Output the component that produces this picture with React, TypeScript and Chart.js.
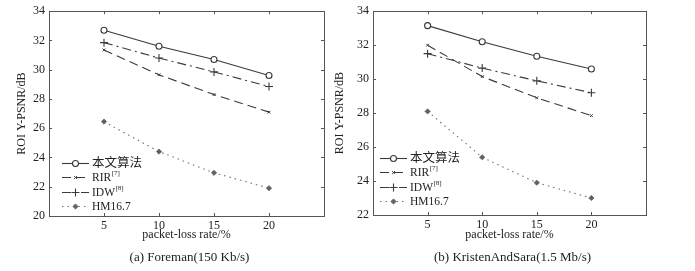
import React, { useEffect, useRef } from 'react';
import { Chart, registerables } from 'chart.js';
import { drawPoint } from 'chart.js/helpers';

Chart.register(...registerables);

// ---------- data ----------
const xValues = [5, 10, 15, 20];
const xTicks = [5, 10, 15, 20];
const seriesNames = ['本文算法', 'RIR', 'IDW', 'HM16.7'];
const seriesRefs = ['', '[7]', '[8]', ''];

const foremanOurs = [32.7, 31.6, 30.7, 29.6];
const foremanRIR = [31.35, 29.65, 28.3, 27.1];
const foremanIDW = [31.85, 30.8, 29.85, 28.85];
const foremanHM = [26.45, 24.4, 22.95, 21.9];

const kristenOurs = [33.15, 32.2, 31.35, 30.6];
const kristenRIR = [32.0, 30.15, 28.9, 27.85];
const kristenIDW = [31.5, 30.65, 29.9, 29.2];
const kristenHM = [28.1, 25.4, 23.9, 23.0];

const foremanYTicks = [20, 22, 24, 26, 28, 30, 32, 34];
const kristenYTicks = [22, 24, 26, 28, 30, 32, 34];

const xTitle = 'packet-loss rate/%';
const yTitle = 'ROI Y-PSNR/dB';
const captionA = '(a) Foreman(150 Kb/s)';
const captionB = '(b) KristenAndSara(1.5 Mb/s)';

// ---------- styles ----------
const SERIF = "'Liberation Serif', 'Times New Roman', serif";
const LEGEND_FONT = "'Liberation Serif', 'Noto Sans CJK SC', serif";
const TEXT = '#222';
const FRAME = '#555';

const seriesStyles = [
  { color: '#3a3a3a', dash: [] as number[], pointStyle: 'circle', radius: 3, fill: '#ffffff', bw: 1.1 },
  { color: '#3a3a3a', dash: [9, 5], pointStyle: 'crossRot', radius: 2, fill: '#3a3a3a', bw: 1 },
  { color: '#3a3a3a', dash: [9, 4, 2, 4], pointStyle: 'cross', radius: 4, fill: '#3a3a3a', bw: 1.1 },
  { color: '#707070', dash: [1.5, 4], pointStyle: 'rectRot', radius: 2.6, fill: '#606060', bw: 1 },
];

type Panel = {
  series: number[][];
  yTicks: number[];
  caption: string;
  width: number;
  left: number;
  yAxisWidth: number;
  yTitlePad: number;
  padRight: number;
  top: number;
  bottomPlot: number;
  legendDx: number;
  legendDy: number;
  legendGap: number;
};

const panels: Panel[] = [
  {
    series: [foremanOurs, foremanRIR, foremanIDW, foremanHM],
    yTicks: foremanYTicks,
    caption: captionA,
    width: 330,
    left: 0,
    yAxisWidth: 49,
    yTitlePad: 15,
    padRight: 6,
    top: 10,
    bottomPlot: 216,
    legendDx: 13,
    legendDy: 53,
    legendGap: 14.4,
  },
  {
    series: [kristenOurs, kristenRIR, kristenIDW, kristenHM],
    yTicks: kristenYTicks,
    caption: captionB,
    width: 365,
    left: 330,
    yAxisWidth: 43,
    yTitlePad: 3,
    padRight: 49,
    top: 10,
    bottomPlot: 215,
    legendDx: 7,
    legendDy: 57,
    legendGap: 14.4,
  },
];

const H = 271;

function makeFramePlugin(p: Panel) {
  return {
    id: 'frameLegend',
    beforeDatasetsDraw(chart: any) {
      const { ctx, chartArea: ca, scales } = chart;
      ctx.save();
      ctx.strokeStyle = FRAME;
      ctx.lineWidth = 1;
      ctx.setLineDash([]);
      ctx.strokeRect(Math.round(ca.left) + 0.5, Math.round(ca.top) + 0.5, Math.round(ca.right - ca.left), Math.round(ca.bottom - ca.top));
      const tl = 3;
      ctx.beginPath();
      scales.y.ticks.forEach((t: any) => {
        const y = Math.round(scales.y.getPixelForValue(t.value)) + 0.5;
        ctx.moveTo(ca.left, y);
        ctx.lineTo(ca.left + tl, y);
        ctx.moveTo(ca.right, y);
        ctx.lineTo(ca.right - tl, y);
      });
      scales.x.ticks.forEach((t: any) => {
        const x = Math.round(scales.x.getPixelForValue(t.value)) + 0.5;
        ctx.moveTo(x, ca.bottom);
        ctx.lineTo(x, ca.bottom - tl);
        ctx.moveTo(x, ca.top);
        ctx.lineTo(x, ca.top + tl);
      });
      ctx.stroke();
      ctx.restore();
    },
    afterDraw(chart: any) {
      const { ctx, chartArea: ca } = chart;
      ctx.save();
      // caption
      ctx.fillStyle = TEXT;
      ctx.font = `13px ${SERIF}`;
      ctx.textAlign = 'center';
      ctx.textBaseline = 'middle';
      ctx.fillText(p.caption, (ca.left + ca.right) / 2 + 3, 258);
      // legend
      const x0 = ca.left + p.legendDx;
      const len = 27;
      seriesNames.forEach((name, i) => {
        const st = seriesStyles[i];
        const y = Math.round(ca.bottom - p.legendDy + i * p.legendGap) + 0.5;
        ctx.strokeStyle = st.color;
        ctx.lineWidth = 1.1;
        ctx.setLineDash(st.dash);
        ctx.beginPath();
        ctx.moveTo(x0, y);
        ctx.lineTo(x0 + len, y);
        ctx.stroke();
        ctx.setLineDash([]);
        ctx.fillStyle = st.fill;
        ctx.strokeStyle = st.color;
        ctx.lineWidth = st.bw;
        drawPoint(ctx, { pointStyle: st.pointStyle, radius: st.radius, rotation: 0, borderWidth: st.bw } as any, x0 + len / 2, y);
        ctx.fillStyle = TEXT;
        ctx.textAlign = 'left';
        ctx.textBaseline = 'middle';
        const isCJK = /[\u4e00-\u9fff]/.test(name);
        ctx.font = `${isCJK ? 12.5 : 11.5}px ${LEGEND_FONT}`;
        const tx = x0 + len + 3;
        ctx.fillText(name, tx, y);
        if (seriesRefs[i]) {
          const w = ctx.measureText(name).width;
          ctx.font = `7px ${SERIF}`;
          ctx.fillText(seriesRefs[i], tx + w + 0.5, y - 4);
        }
      });
      ctx.restore();
    },
  };
}

function PanelChart({ p }: { p: Panel }) {
  const ref = useRef<HTMLCanvasElement | null>(null);
  useEffect(() => {
    if (!ref.current) return;
    const chart = new Chart(ref.current, {
      type: 'line',
      data: {
        datasets: p.series.map((vals, i) => {
          const st = seriesStyles[i];
          return {
            label: seriesNames[i],
            data: xValues.map((x, j) => ({ x, y: vals[j] })),
            borderColor: st.color,
            borderWidth: 1.1,
            borderDash: st.dash,
            pointStyle: st.pointStyle as any,
            pointRadius: st.radius,
            pointBackgroundColor: st.fill,
            pointBorderColor: st.color,
            pointBorderWidth: st.bw,
            fill: false,
            tension: 0,
          };
        }),
      },
      options: {
        responsive: false,
        animation: false,
        devicePixelRatio: 1,
        layout: { padding: { left: 0, right: p.padRight, top: p.top, bottom: 0 } },
        plugins: { legend: { display: false }, tooltip: { enabled: false } },
        scales: {
          x: {
            type: 'linear',
            min: 0,
            max: 25,
            afterBuildTicks: (s: any) => {
              s.ticks = xTicks.map((v) => ({ value: v }));
            },
            afterFit: (s: any) => {
              s.height = H - p.bottomPlot;
            },
            ticks: { font: { family: SERIF, size: 12 }, color: TEXT, padding: 3, maxRotation: 0, autoSkip: false },
            grid: { display: false, drawTicks: false },
            border: { display: false },
            title: {
              display: true,
              text: xTitle,
              font: { family: SERIF, size: 12 },
              color: TEXT,
              padding: { top: 0, bottom: 28.8 },
            },
          },
          y: {
            type: 'linear',
            min: p.yTicks[0],
            max: p.yTicks[p.yTicks.length - 1],
            afterBuildTicks: (s: any) => {
              s.ticks = p.yTicks.map((v) => ({ value: v }));
            },
            afterFit: (s: any) => {
              s.width = p.yAxisWidth;
            },
            ticks: { font: { family: SERIF, size: 12 }, color: TEXT, padding: 4, autoSkip: false },
            grid: { display: false, drawTicks: false },
            border: { display: false },
            title: {
              display: true,
              text: yTitle,
              font: { family: SERIF, size: 12 },
              color: TEXT,
              padding: { top: p.yTitlePad, bottom: 0 },
            },
          },
        },
      } as any,
      plugins: [makeFramePlugin(p)],
    });
    return () => chart.destroy();
  }, [p]);
  return (
    <canvas
      ref={ref}
      width={p.width}
      height={H}
      style={{ position: 'absolute', left: p.left, top: 0, width: p.width, height: H }}
    />
  );
}

export default function App() {
  return (
    <div style={{ position: 'absolute', left: 0, top: 0, width: 695, height: H, background: '#fff', overflow: 'hidden' }}>
      {panels.map((p, i) => (
        <PanelChart key={i} p={p} />
      ))}
    </div>
  );
}
